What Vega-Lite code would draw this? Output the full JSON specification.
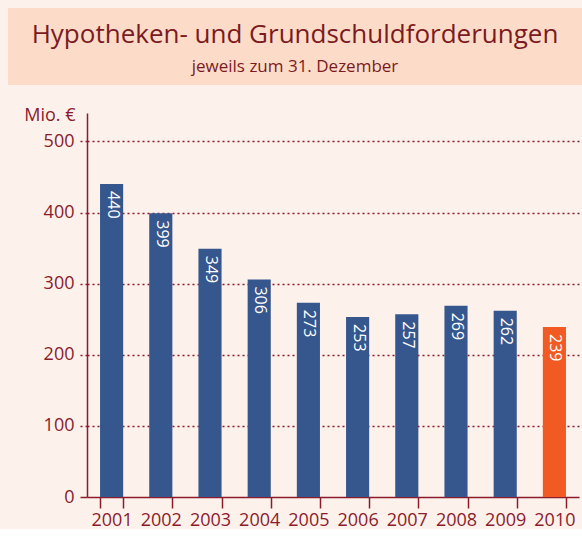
{
  "$schema": "https://vega.github.io/schema/vega-lite/v6.json",
  "background": "#fdf1eb",
  "padding": {"left": 8, "top": 8, "right": 0, "bottom": 0},
  "spacing": 21,
  "config": {"font": "Open Sans", "view": {"stroke": null}},
  "vconcat": [
    {
      "width": 574,
      "height": 77,
      "view": {"fill": "#fcdcc8", "stroke": null},
      "data": {"values": [
        {"line": 1, "text": "Hypotheken- und Grundschuldforderungen"},
        {"line": 2, "text": "jeweils zum 31. Dezember"}
      ]},
      "encoding": {
        "y": {"field": "line", "type": "ordinal", "axis": null,
              "scale": {"type": "point", "padding": 0.703, "align": 0.6}},
        "text": {"field": "text"}
      },
      "layer": [
        {"transform": [{"filter": "datum.line == 1"}],
         "mark": {"type": "text", "color": "#7b1a23", "fontSize": 26, "baseline": "middle"}},
        {"transform": [{"filter": "datum.line == 2"}],
         "mark": {"type": "text", "color": "#7b1a23", "fontSize": 17, "baseline": "middle"}}
      ]
    },
    {
      "width": 574,
      "height": 384,
      "data": {"values": [
        {"year": "2001", "value": 440},
        {"year": "2002", "value": 399},
        {"year": "2003", "value": 349},
        {"year": "2004", "value": 306},
        {"year": "2005", "value": 273},
        {"year": "2006", "value": 253},
        {"year": "2007", "value": 257},
        {"year": "2008", "value": 269},
        {"year": "2009", "value": 262},
        {"year": "2010", "value": 239}
      ]},
      "encoding": {
        "x": {"field": "year", "type": "ordinal",
              "scale": {"range": [79, 571], "paddingInner": 0.53, "paddingOuter": 0.265},
              "axis": {"title": null, "labelAngle": 0, "labelFontSize": 18, "labelColor": "#8b1c2c",
                       "tickBand": "extent", "tickSize": 11, "tickColor": "#8b1c2c", "tickWidth": 1.5,
                       "domainColor": "#8b1c2c", "domainWidth": 1.5, "labelPadding": 3}},
        "y": {"field": "value", "type": "quantitative",
              "scale": {"domain": [0, 540], "nice": false},
              "axis": {"offset": -79, "title": "Mio. €", "titleAngle": 0, "titleAlign": "right", "titleBaseline": "middle",
                       "titleX": -12, "titleY": 2, "titleFontSize": 18, "titleFontWeight": "normal",
                       "titleColor": "#8b1c2c",
                       "values": [0, 100, 200, 300, 400, 500],
                       "labelFontSize": 18, "labelColor": "#8b1c2c", "labelPadding": 6,
                       "tickSize": 7, "tickColor": "#8b1c2c", "tickWidth": 1.5,
                       "tickDash": {"condition": {"test": "datum.value === 0", "value": []}, "value": [2, 3]},
                       "grid": true, "gridColor": "#8b1c2c", "gridWidth": 1.5, "gridDash": [2, 3],
                       "gridOpacity": {"condition": {"test": "datum.value === 0", "value": 0}, "value": 1},
                       "domainColor": "#8b1c2c", "domainWidth": 1.5}}
      },
      "layer": [
        {"mark": {"type": "bar"},
         "encoding": {
           "color": {"condition": {"test": "datum.year === '2010'", "value": "#f15a22"}, "value": "#36578e"}
         }},
        {"mark": {"type": "text", "angle": 90, "align": "left", "baseline": "middle", "dx": 7, "dy": -1,
                  "color": "white", "fontSize": 16},
         "encoding": {"text": {"field": "value", "type": "quantitative"}}}
      ]
    }
  ]
}
